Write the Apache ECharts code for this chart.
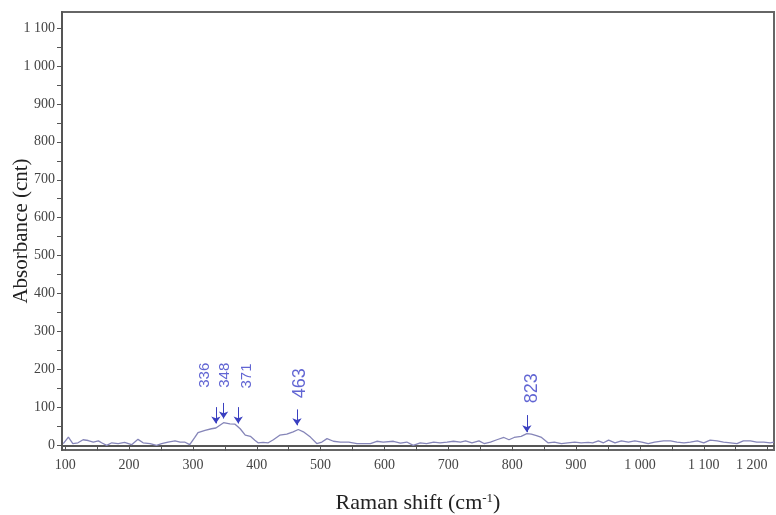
<!DOCTYPE html>
<html>
<head>
<meta charset="utf-8">
<script src="https://cdn.jsdelivr.net/npm/echarts@6/dist/echarts.min.js"></script>
<style>
  html, body { margin: 0; padding: 0; background: #fff; }
  #chart { width: 776px; height: 515px; }
</style>
</head>
<body>
<div id="chart"></div>
<script>
// Raman spectrum
const shift = [97, 105, 112, 120, 128, 136, 144, 152, 157, 165, 173, 183, 193, 204, 214, 222, 233, 243, 251, 261,
  272, 280, 287, 295, 303, 308, 319, 329, 336, 348, 358, 366, 374, 382, 390, 397, 402, 410, 418, 426,
  436, 447, 457, 465, 473, 484, 494, 502, 510, 520, 531, 544, 557, 567, 578, 588, 598, 614, 625, 635,
  645, 656, 666, 677, 687, 698, 708, 719, 727, 737, 748, 756, 766, 776, 787, 795, 803, 814, 823, 830,
  838, 846, 856, 866, 877, 887, 898, 908, 919, 926, 935, 943, 951, 961, 971, 982, 992, 1003, 1013, 1023,
  1037, 1048, 1058, 1069, 1079, 1090, 1100, 1110, 1121, 1131, 1142, 1152, 1162, 1173, 1183, 1194, 1204, 1210]
const counts = [5, 22, 5, 7, 15, 13, 9, 12, 7, 0, 7, 5, 8, 2, 16, 7, 5, 0, 5, 9,
  12, 9, 9, 2, 21, 34, 40, 44, 46, 60, 57, 56, 44, 27, 24, 14, 7, 8, 7, 15,
  27, 30, 36, 42, 36, 22, 5, 9, 18, 11, 9, 9, 5, 5, 5, 11, 9, 11, 6, 9,
  0, 7, 5, 9, 7, 9, 11, 9, 12, 7, 12, 5, 9, 15, 21, 15, 21, 24, 31, 30,
  26, 21, 7, 9, 5, 7, 9, 7, 8, 7, 12, 7, 14, 7, 12, 9, 12, 9, 5, 9,
  12, 12, 9, 7, 9, 12, 7, 14, 12, 9, 7, 5, 12, 12, 9, 9, 7, 9]

const xTicks = [100, 200, 300, 400, 500, 600, 700, 800, 900, 1000, 1100, 1200]
const yTicks = [0, 100, 200, 300, 400, 500, 600, 700, 800, 900, 1000, 1100]

// peak annotations
const peaks = [336, 348, 371, 463, 823]
const arrowFrom = [101, 112, 101, 95, 80]
const arrowTo = [58, 71, 58, 53, 35]
const labelX = [319, 350, 384, 468, 831]
const labelY = [185, 185, 183, 164, 151]

const fmt = v => v >= 1000 ? Math.floor(v / 1000) + ' ' + String(v % 1000).padStart(3, '0') : String(v)
const withMinor = ticks => ticks.flatMap(t => [t, t + 50])

const chart = echarts.init(document.getElementById('chart'))
chart.setOption({
  animation: false,
  grid: {
    left: 62, right: 2, top: 12, bottom: 65,
    containLabel: false, outerBoundsMode: 'none',
    show: true, borderColor: '#666', borderWidth: 2
  },
  xAxis: {
    type: 'value', min: 95, max: 1210,
    name: '{a|Raman shift (cm}{s|-1}{a|)}',
    nameLocation: 'middle', nameGap: 42, nameMoveOverlap: false,
    nameTextStyle: {
      rich: {
        a: { fontFamily: 'Liberation Serif', fontSize: 22, color: '#222' },
        s: { fontFamily: 'Liberation Serif', fontSize: 13, color: '#222', verticalAlign: 'top', padding: [0, 0, 9, 0] }
      }
    },
    axisLine: { lineStyle: { color: '#555', width: 2 } },
    axisTick: { customValues: withMinor(xTicks).filter(v => v <= 1210), length: 5, lineStyle: { color: '#555' } },
    axisLabel: {
      customValues: xTicks, formatter: fmt, margin: 8, alignMaxLabel: 'right',
      fontFamily: 'Liberation Serif', fontSize: 14, color: '#444'
    },
    splitLine: { show: false }
  },
  yAxis: {
    type: 'value', min: -12, max: 1142,
    name: 'Absorbance (cnt)',
    nameLocation: 'middle', nameGap: 30, nameMoveOverlap: false,
    nameTextStyle: { fontFamily: 'Liberation Serif', fontSize: 21, color: '#222' },
    axisLine: { show: true, lineStyle: { color: '#555', width: 2 } },
    axisTick: { show: true, customValues: withMinor(yTicks).filter(v => v <= 1142), length: 5, lineStyle: { color: '#555' } },
    axisLabel: { customValues: yTicks, formatter: fmt, margin: 7, fontFamily: 'Liberation Serif', fontSize: 14, color: '#444' },
    splitLine: { show: false }
  },
  series: [{
    type: 'line',
    data: shift.map((x, i) => [x, counts[i]]),
    showSymbol: false,
    lineStyle: { color: '#8585b8', width: 1.3 },
    markLine: {
      silent: true,
      symbol: ['none', 'arrow'],
      symbolSize: 7,
      label: { show: false },
      lineStyle: { color: '#3a3fc0', width: 1, type: 'solid' },
      data: peaks.map((p, i) => [{ coord: [p, arrowFrom[i]] }, { coord: [p, arrowTo[i]] }])
    }
  }, {
    type: 'scatter',
    symbolSize: 0,
    silent: true,
    data: peaks.map((p, i) => [labelX[i], labelY[i], p]),
    label: {
      show: true, position: 'inside', rotate: 90,
      formatter: d => String(d.value[2]),
      fontFamily: 'Liberation Sans', color: '#3a3fc8',
      fontSize: 15
    },
    labelLayout: d => ({ fontSize: d.dataIndex >= 3 ? 18 : 15 })
  }]
})
</script>
</body>
</html>
